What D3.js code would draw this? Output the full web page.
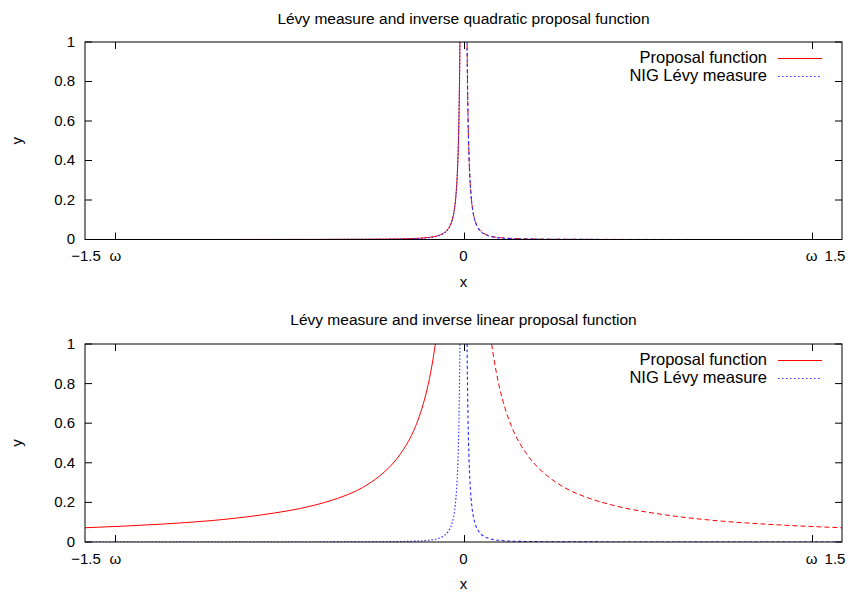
<!DOCTYPE html>
<html>
<head>
<meta charset="utf-8">
<script src="https://cdn.jsdelivr.net/npm/d3@7"></script>
<style>
  html, body { margin: 0; padding: 0; background: #fff; }
  svg { display: block; }
  text { font-family: "Liberation Sans", Arial, Helvetica, sans-serif; fill: #000; }
</style>
</head>
<body>
<svg id="chart" width="856" height="594"></svg>
<script>
// ---- data ----
const titles = ["Lévy measure and inverse quadratic proposal function",
                "Lévy measure and inverse linear proposal function"];
const seriesNames = ["Proposal function", "NIG Lévy measure"];
const omega = 1.38;
const xTickValues = [-1.5, -omega, 0, omega, 1.5];
const xTickLabels = ["−1.5", "ω", "0", "ω", "1.5"];
const xTickMarks = [-omega, 0, omega];
const yTickValues = [0, 0.2, 0.4, 0.6, 0.8, 1];
const yTickLabels = ["0", "0.2", "0.4", "0.6", "0.8", "1"];

// NIG Lévy measure (same in both panels)
const nigX = [-1.5, -1.0, -0.6, -0.4, -0.3, -0.2, -0.15, -0.12, -0.1, -0.08, -0.07, -0.06, -0.05, -0.045, -0.04, -0.035, -0.03, -0.025, -0.022, -0.02, -0.018, -0.016, -0.015, -0.014, -0.013, -0.012,
              0.012, 0.013, 0.014, 0.015, 0.016, 0.018, 0.02, 0.022, 0.025, 0.03, 0.035, 0.04, 0.045, 0.05, 0.06, 0.07, 0.08, 0.1, 0.12, 0.15, 0.2, 0.3, 0.4, 0.6, 1.0, 1.5];
const nigY = [0, 0.0001, 0.0003, 0.0008, 0.0016, 0.004, 0.0075, 0.012, 0.018, 0.029, 0.039, 0.054, 0.078, 0.097, 0.123, 0.161, 0.221, 0.32, 0.413, 0.5, 0.617, 0.781, 0.889, 1.02, 1.18, 1.39,
              1.39, 1.18, 1.02, 0.889, 0.781, 0.617, 0.5, 0.413, 0.32, 0.221, 0.161, 0.123, 0.097, 0.078, 0.054, 0.039, 0.029, 0.018, 0.012, 0.0075, 0.004, 0.0016, 0.0008, 0.0003, 0.0001, 0];

// inverse quadratic proposal (top panel)
const quadX = [-1.5, -1.0, -0.6, -0.4, -0.3, -0.2, -0.15, -0.12, -0.1, -0.08, -0.07, -0.06, -0.05, -0.045, -0.04, -0.035, -0.03, -0.025, -0.022, -0.02, -0.018, -0.016, -0.015, -0.014, -0.013, -0.012,
               0.012, 0.013, 0.014, 0.015, 0.016, 0.018, 0.02, 0.022, 0.025, 0.03, 0.035, 0.04, 0.045, 0.05, 0.06, 0.07, 0.08, 0.1, 0.12, 0.15, 0.2, 0.3, 0.4, 0.6, 1.0, 1.5];
const quadY = [0.0001, 0.0002, 0.0006, 0.0013, 0.0022, 0.005, 0.0089, 0.0139, 0.02, 0.0313, 0.0408, 0.0556, 0.08, 0.0988, 0.125, 0.163, 0.222, 0.32, 0.413, 0.5, 0.617, 0.781, 0.889, 1.02, 1.18, 1.39,
               1.39, 1.18, 1.02, 0.889, 0.781, 0.617, 0.5, 0.413, 0.32, 0.222, 0.163, 0.125, 0.0988, 0.08, 0.0556, 0.0408, 0.0313, 0.02, 0.0139, 0.0089, 0.005, 0.0022, 0.0013, 0.0006, 0.0002, 0.0001];

// inverse linear proposal (bottom panel)
const linX = [-1.5, -1.2, -1.0, -0.8, -0.6, -0.5, -0.4, -0.33, -0.3, -0.25, -0.2, -0.18, -0.16, -0.14, -0.12, -0.11, -0.1,
              0.1, 0.11, 0.12, 0.14, 0.16, 0.18, 0.2, 0.25, 0.3, 0.33, 0.4, 0.5, 0.6, 0.8, 1.0, 1.2, 1.5];
const linY = [0.072, 0.09, 0.108, 0.137, 0.183, 0.22, 0.275, 0.336, 0.37, 0.445, 0.555, 0.617, 0.695, 0.795, 0.93, 1.015, 1.12,
              1.12, 1.015, 0.93, 0.795, 0.695, 0.617, 0.555, 0.445, 0.37, 0.336, 0.275, 0.22, 0.183, 0.137, 0.108, 0.09, 0.072];

// ---- layout ----
const svg = d3.select("#chart");
const plotLeft = 85, plotRight = 842;
const panels = [
  { top: 42, bottom: 239.5, title: titles[0], titleY: 20, xlabY: 283, proposal: [quadX, quadY] },
  { top: 344, bottom: 542, title: titles[1], titleY: 321, xlabY: 585, proposal: [linX, linY] }
];
const fs = 15;
const titleFs = 15.5;
const legendFs = 16.5;
const blue = "#2a2aff";

panels.forEach((p, pi) => {
  const x = d3.scaleLinear().domain([-1.5, 1.5]).range([plotLeft, plotRight]);
  const y = d3.scaleLinear().domain([0, 1]).range([p.bottom, p.top]);
  const g = svg.append("g");

  const clipId = "clip" + pi;
  svg.append("defs").append("clipPath").attr("id", clipId)
    .append("rect").attr("x", plotLeft).attr("y", p.top)
    .attr("width", plotRight - plotLeft).attr("height", p.bottom - p.top);

  // title
  g.append("text").attr("x", (plotLeft + plotRight) / 2).attr("y", p.titleY)
    .attr("text-anchor", "middle").attr("dominant-baseline", "middle")
    .style("font-size", titleFs + "px").text(p.title);

  // axis labels
  g.append("text").attr("x", (plotLeft + plotRight) / 2).attr("y", p.xlabY)
    .attr("text-anchor", "middle").attr("dominant-baseline", "middle")
    .style("font-size", fs + "px").text("x");
  g.append("text").attr("transform", `translate(18,${(p.top + p.bottom) / 2}) rotate(-90)`)
    .attr("text-anchor", "middle").attr("dominant-baseline", "middle")
    .style("font-size", fs + "px").text("y");

  // y ticks and labels
  const tl = 7;
  yTickValues.forEach((v, i) => {
    const yy = y(v);
    g.append("line").attr("x1", plotLeft).attr("x2", plotLeft + tl).attr("y1", yy).attr("y2", yy)
      .attr("stroke", "#000").attr("stroke-width", 1);
    g.append("line").attr("x1", plotRight).attr("x2", plotRight - tl).attr("y1", yy).attr("y2", yy)
      .attr("stroke", "#000").attr("stroke-width", 1);
    g.append("text").attr("x", 75).attr("y", yy + 1).attr("text-anchor", "end")
      .attr("dominant-baseline", "middle").style("font-size", fs + "px").text(yTickLabels[i]);
  });

  // x ticks and labels
  xTickMarks.forEach(v => {
    const xx = Math.round(x(v)) + 0.5;
    g.append("line").attr("x1", xx).attr("x2", xx).attr("y1", p.bottom).attr("y2", p.bottom - tl)
      .attr("stroke", "#000").attr("stroke-width", 1);
    g.append("line").attr("x1", xx).attr("x2", xx).attr("y1", p.top).attr("y2", p.top + tl)
      .attr("stroke", "#000").attr("stroke-width", 1);
  });
  xTickValues.forEach((v, i) => {
    let dx = 0;
    if (v === 1.5) dx = -7;
    if (v === -1.5) dx = 1;
    g.append("text").attr("x", x(v) + dx).attr("y", p.bottom + 18)
      .attr("text-anchor", "middle").attr("dominant-baseline", "middle")
      .style("font-size", fs + "px").text(xTickLabels[i]);
  });

  // curves
  const line = d3.line().x(d => x(d[0])).y(d => y(d[1])).curve(d3.curveMonotoneX);
  const zipped = (xs, ys) => xs.map((v, i) => [v, ys[i]]);
  const prop = zipped(p.proposal[0], p.proposal[1]);
  const nig = zipped(nigX, nigY);
  const cg = g.append("g").attr("clip-path", `url(#${clipId})`);

  const styles = [
    { data: prop.filter(d => d[0] < 0), color: "#ff0000", dash: null, w: 1 },
    { data: prop.filter(d => d[0] > 0), color: "#ff0000", dash: "5,3", w: 1 },
    { data: nig.filter(d => d[0] < 0), color: blue, dash: "1.5,2", w: 1.1 },
    { data: nig.filter(d => d[0] > 0), color: blue, dash: "3,2.5", w: 1.1 }
  ];
  styles.forEach(s => {
    cg.append("path").datum(s.data).attr("d", line).attr("fill", "none")
      .attr("stroke", s.color).attr("stroke-width", s.w)
      .attr("stroke-dasharray", s.dash);
  });

  // frame
  g.append("rect").attr("x", plotLeft).attr("y", p.top)
    .attr("width", plotRight - plotLeft).attr("height", p.bottom - p.top)
    .attr("fill", "none").attr("stroke", "#000").attr("stroke-width", 1);

  // legend
  const lgY = [p.top + 16, p.top + 33.5];
  const legendStyles = [{ color: "#ff0000", dash: null }, { color: blue, dash: "1.5,2.5" }];
  seriesNames.forEach((name, i) => {
    g.append("text").attr("x", 767).attr("y", lgY[i] + 1).attr("text-anchor", "end")
      .attr("dominant-baseline", "middle").style("font-size", legendFs + "px").text(name);
    g.append("line").attr("x1", 778).attr("x2", 822).attr("y1", Math.round(lgY[i]) + 0.5).attr("y2", Math.round(lgY[i]) + 0.5)
      .attr("stroke", legendStyles[i].color).attr("stroke-width", 1.1)
      .attr("stroke-dasharray", legendStyles[i].dash);
  });
});
</script>
</body>
</html>
